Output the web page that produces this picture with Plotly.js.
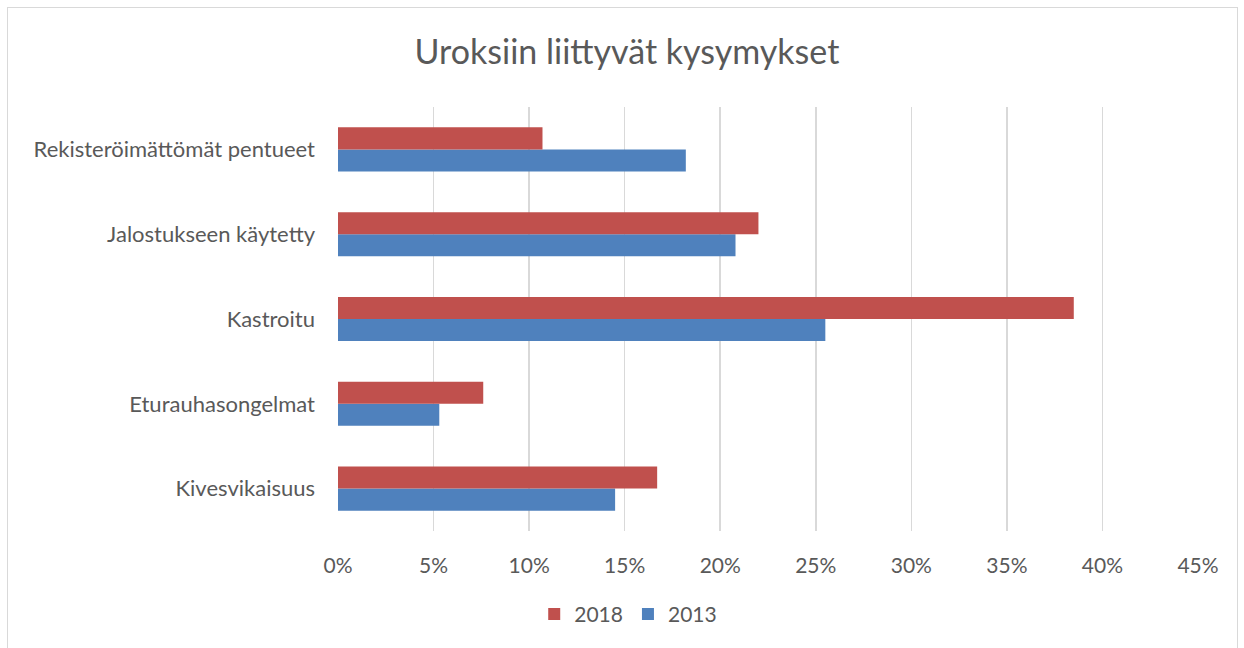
<!DOCTYPE html>
<html>
<head>
<meta charset="utf-8">
<script src="https://cdn.plot.ly/plotly-3.0.1.min.js"></script>
<style>
  html, body { margin: 0; padding: 0; background: #fff; }
  #wrap { position: relative; width: 1244px; height: 648px; overflow: hidden; }
  #chart { position: absolute; left: 0; top: 0; width: 1244px; height: 648px; }
  #frame { position: absolute; left: 7px; top: 7px; width: 1229px; height: 700px; border: 1px solid #d9d9d9; pointer-events: none; }
</style>
</head>
<body>
<div id="wrap">
  <div id="chart"></div>
  <div id="frame"></div>
</div>
<script>
const categories = ["Kivesvikaisuus", "Eturauhasongelmat", "Kastroitu", "Jalostukseen käytetty", "Rekisteröimättömät pentueet"];
const values2013 = [14.5, 5.3, 25.5, 20.8, 18.2];
const values2018 = [16.7, 7.6, 38.5, 22.0, 10.7];
const xTickVals = [0, 5, 10, 15, 20, 25, 30, 35, 40, 45];
const xTickText = ["0%", "5%", "10%", "15%", "20%", "25%", "30%", "35%", "40%", "45%"];

const FONT = "Lato, 'Open Sans', sans-serif";
const GREY = "#595959";

const traces = [
  { type: "bar", orientation: "h", name: "2013", y: categories, x: values2013,
    marker: { color: "#4F81BD" }, legendrank: 2, hoverinfo: "x+y" },
  { type: "bar", orientation: "h", name: "2018", y: categories, x: values2018,
    marker: { color: "#C0504D" }, legendrank: 1, hoverinfo: "x+y" }
];

const layout = {
  width: 1244, height: 648,
  paper_bgcolor: "#ffffff", plot_bgcolor: "#ffffff",
  margin: { l: 338, r: 46, t: 107, b: 117 },
  barmode: "group", bargap: 0.48, bargroupgap: 0,
  font: { family: FONT, color: GREY, size: 21 },
  title: { text: "Uroksiin liittyvät kysymykset", font: { family: FONT, size: 34, color: GREY },
           x: 0.504, xanchor: "center", xref: "container", y: 0.92, yanchor: "middle", yref: "container" },
  xaxis: { range: [0, 45], tickvals: xTickVals, ticktext: xTickText, showgrid: true,
           gridcolor: "#d9d9d9", gridwidth: 1.5, zeroline: false, showline: false, ticks: "",
           ticklabelstandoff: 20, tickfont: { family: FONT, size: 21, color: GREY }, fixedrange: true },
  yaxis: { type: "category", showgrid: false, zeroline: false, showline: false, ticks: "",
           ticklabelstandoff: 22, tickfont: { family: FONT, size: 22, color: GREY }, fixedrange: true },
  legend: { orientation: "h", x: 0.505, xanchor: "center", xref: "container",
            y: 0.052, yanchor: "middle", yref: "container",
            font: { family: FONT, size: 21, color: GREY }, traceorder: "normal" },
  showlegend: true
};

Plotly.newPlot("chart", traces, layout, { displayModeBar: false, staticPlot: true });
</script>
</body>
</html>
